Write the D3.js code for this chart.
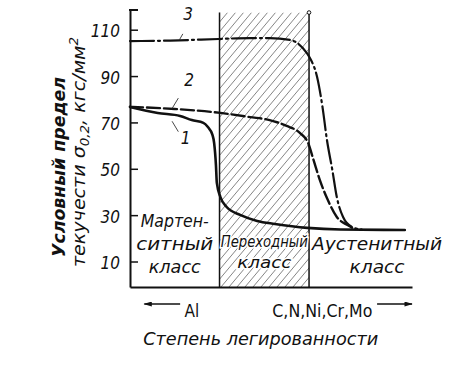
<!DOCTYPE html>
<html>
<head>
<meta charset="utf-8">
<script src="https://cdn.jsdelivr.net/npm/d3@7"></script>
<style>
  body { margin: 0; background: #fff; }
  text { font-family: "DejaVu Sans Condensed", "DejaVu Sans", sans-serif; fill: #111; }
</style>
</head>
<body>
<div id="chart"></div>
<script>
// tick values of the yield strength axis
var yTicks = [10, 30, 50, 70, 90, 110];
// degree of alloying in relative units, class borders between regions
var classBorders = [1, 2];
var classNames = [["Мартен-", "ситный", "класс"], ["Переходный", "класс"], ["Аустенитный", "класс"]];

// curve 1 (solid)
var alloy1 = [0, 0.31, 0.56, 0.69, 0.82, 0.87, 0.92, 0.94, 0.96, 0.97, 1.01, 1.08, 1.23, 1.42, 1.62, 1.98, 2.35, 3.07];
var sigma1 = [76.7, 74.1, 72.8, 71.0, 69.8, 68.0, 64.7, 61.1, 51.6, 43.9, 37.8, 33.5, 30.1, 27.5, 26.2, 24.5, 23.8, 23.6];
// curve 2 (dashed)
var alloy2 = [0, 0.50, 1.01, 1.34, 1.56, 1.75, 1.90, 1.99, 2.05, 2.12, 2.21, 2.31, 2.43, 2.51];
var sigma2 = [76.7, 75.8, 74.1, 72.3, 71.0, 68.5, 65.4, 61.1, 53.8, 45.2, 36.5, 29.2, 25.7, 24.0];
// curve 3 (dash-dot)
var alloy3 = [0, 0.45, 0.99, 1.34, 1.56, 1.79, 1.93, 2.01, 2.09, 2.15, 2.20, 2.26, 2.31, 2.38, 2.48, 2.59];
var sigma3 = [105.1, 105.3, 106.0, 106.4, 106.4, 105.6, 102.1, 97.8, 89.6, 76.7, 62.4, 49.5, 37.8, 29.2, 24.9, 23.8];

var curveNames = ["1", "2", "3"];

(function() {
    var width = 461;
    var height = 365;

    var svg = d3.select('#chart')
        .append('svg')
        .attr('width', width)
        .attr('height', height);

    var x = d3.scaleLinear().domain([0, 3.15]).range([130, 412]);
    var y = d3.scaleLinear().domain([-1, 118.5]).range([287, 10]);

    // hatched transition region
    var hx0 = x(classBorders[0]), hx1 = x(classBorders[1]);
    var hTop = y(117.4), hBot = y(-1);
    svg.append('clipPath').attr('id', 'hclip')
        .append('rect')
        .attr('x', hx0).attr('y', hTop)
        .attr('width', hx1 - hx0).attr('height', hBot - hTop);
    var rise = hBot - hTop;
    var run = rise * 0.84;
    svg.append('g')
        .attr('clip-path', 'url(#hclip)')
        .selectAll('line')
        .data(d3.range(hx0 - run, hx1 + 8, 8))
        .join('line')
            .attr('x1', d => d).attr('y1', hBot)
            .attr('x2', d => d + run).attr('y2', hTop)
            .attr('stroke', '#666')
            .attr('stroke-width', 0.8);

    // region borders
    svg.append('g')
        .selectAll('line')
        .data(classBorders)
        .join('line')
            .attr('x1', d => x(d)).attr('x2', d => x(d))
            .attr('y1', hTop).attr('y2', hBot)
            .attr('stroke', '#111')
            .attr('stroke-width', 1.5);
    svg.append('circle')
        .attr('cx', hx1).attr('cy', hTop).attr('r', 1.8)
        .attr('fill', '#fff').attr('stroke', '#111').attr('stroke-width', 1);

    // y axis, ticks turned inside
    var yAxis = svg.append('g')
        .attr('transform', `translate(${x(0)}, 0)`)
        .call(d3.axisLeft(y).tickValues(yTicks).tickSizeInner(-8).tickSizeOuter(0).tickPadding(10));
    yAxis.select('.domain').attr('stroke', '#111').attr('stroke-width', 2);
    yAxis.selectAll('.tick line').attr('stroke', '#111').attr('stroke-width', 1.5);
    yAxis.selectAll('.tick text')
        .attr('font-size', '17px')
        .attr('font-style', 'italic')
        .attr('fill', '#111')
        .attr('dy', '0.42em')
        .style('font-family', '"DejaVu Sans Condensed", "DejaVu Sans", sans-serif');
    // top bracket of the axis
    svg.append('line')
        .attr('x1', x(0) - 1).attr('x2', x(0) + 8)
        .attr('y1', y(118.5)).attr('y2', y(118.5))
        .attr('stroke', '#111').attr('stroke-width', 2);

    // x axis, just a line
    var xAxis = svg.append('g')
        .attr('transform', `translate(0, ${y(-1)})`)
        .call(d3.axisBottom(x).tickValues([]).tickSizeOuter(0));
    xAxis.select('.domain').attr('stroke', '#111').attr('stroke-width', 2);

    // curves
    var line = d3.line()
        .x(d => x(d[0]))
        .y(d => y(d[1]))
        .curve(d3.curveMonotoneX);

    var series = [
        {name: curveNames[0], pts: d3.zip(alloy1, sigma1), dash: null, w: 2.6},
        {name: curveNames[1], pts: d3.zip(alloy2, sigma2), dash: '13,4', w: 2.4},
        {name: curveNames[2], pts: d3.zip(alloy3, sigma3), dash: '24,4,2,4', w: 2.2}
    ];
    svg.append('g')
        .selectAll('path')
        .data(series)
        .join('path')
            .attr('d', d => line(d.pts))
            .attr('fill', 'none')
            .attr('stroke', '#111')
            .attr('stroke-width', d => d.w)
            .attr('stroke-dasharray', d => d.dash)
            .attr('stroke-linecap', 'round');

    // curve numbers with leader lines
    var labelPos = [[0.62, 60.5, 0.54, 66.0, 0.47, 70.5], [0.66, 85.5, 0.54, 80.5, 0.47, 76.0], [0.65, 114.0, 0.59, 108.2, 0.55, 105.5]];
    labelPos.forEach(function(p, i) {
        svg.append('text')
            .attr('x', x(p[0])).attr('y', y(p[1]))
            .attr('text-anchor', 'middle')
            .attr('font-size', '17px')
            .attr('font-style', 'italic')
            .text(curveNames[i]);
        svg.append('line')
            .attr('x1', x(p[2])).attr('y1', y(p[3]))
            .attr('x2', x(p[4])).attr('y2', y(p[5]))
            .attr('stroke', '#333').attr('stroke-width', 0.9);
    });

    // class names
    var classX = [0.5, 1.5, 2.76];
    var classRows = [[227, 250, 273], [247, 268], [250, 273]];
    var classLen = [[68, 77, 52], [87, 54], [130, 55]];
    var classSize = [17, 15, 17];
    classNames.forEach(function(lines, i) {
        lines.forEach(function(s, j) {
            svg.append('text')
                .attr('x', x(classX[i]))
                .attr('y', classRows[i][j])
                .attr('text-anchor', 'middle')
                .attr('font-size', classSize[i] + 'px')
                .attr('font-style', 'italic')
                .attr('textLength', classLen[i][j])
                .attr('lengthAdjust', 'spacingAndGlyphs')
                .attr('stroke', i === 1 ? '#fff' : 'none')
                .attr('stroke-width', 3)
                .attr('paint-order', 'stroke')
                .text(s);
        });
    });

    // y axis title
    var yTitle = svg.append('g');
    yTitle.append('text')
        .attr('transform', 'translate(65, 167) rotate(-90)')
        .attr('text-anchor', 'middle')
        .attr('font-size', '18px')
        .attr('font-style', 'italic')
        .attr('font-weight', 'bold')
        .attr('textLength', 180)
        .attr('lengthAdjust', 'spacingAndGlyphs')
        .text('Условный предел');
    var t2 = yTitle.append('text')
        .attr('transform', 'translate(85, 152) rotate(-90)')
        .attr('text-anchor', 'middle')
        .attr('font-size', '17px')
        .attr('font-style', 'italic')
        .attr('textLength', 230)
        .attr('lengthAdjust', 'spacingAndGlyphs');
    t2.append('tspan').text('текучести σ');
    t2.append('tspan').attr('dy', 4).attr('font-size', '12px').text('0,2');
    t2.append('tspan').attr('dy', -4).text(', кгс/мм');
    t2.append('tspan').attr('dy', -7).attr('font-size', '12px').text('2');

    // x axis labels with arrows
    svg.append('defs').append('marker')
        .attr('id', 'arr')
        .attr('viewBox', '0 0 10 6')
        .attr('refX', 9).attr('refY', 3)
        .attr('markerWidth', 12).attr('markerHeight', 5)
        .attr('markerUnits', 'userSpaceOnUse')
        .attr('orient', 'auto')
        .append('path').attr('d', 'M0,0L10,3L0,6Z').attr('fill', '#111');

    svg.append('line')
        .attr('x1', x(0.56)).attr('x2', x(0.16))
        .attr('y1', 304).attr('y2', 304)
        .attr('stroke', '#111').attr('stroke-width', 1.6)
        .attr('marker-end', 'url(#arr)');
    svg.append('line')
        .attr('x1', x(2.76)).attr('x2', x(3.15))
        .attr('y1', 304).attr('y2', 304)
        .attr('stroke', '#111').attr('stroke-width', 1.6)
        .attr('marker-end', 'url(#arr)');
    svg.append('text')
        .attr('x', x(0.61)).attr('y', 317)
        .attr('font-size', '17px')
        .text('Al');
    svg.append('text')
        .attr('x', x(1.59)).attr('y', 317)
        .attr('font-size', '17px')
        .attr('textLength', 100)
        .attr('lengthAdjust', 'spacingAndGlyphs')
        .text('C,N,Ni,Cr,Mo');
    svg.append('text')
        .attr('x', x(1.46)).attr('y', 345)
        .attr('text-anchor', 'middle')
        .attr('font-size', '17px')
        .attr('font-style', 'italic')
        .attr('textLength', 235)
        .attr('lengthAdjust', 'spacingAndGlyphs')
        .text('Степень легированности');
})();
</script>
</body>
</html>
